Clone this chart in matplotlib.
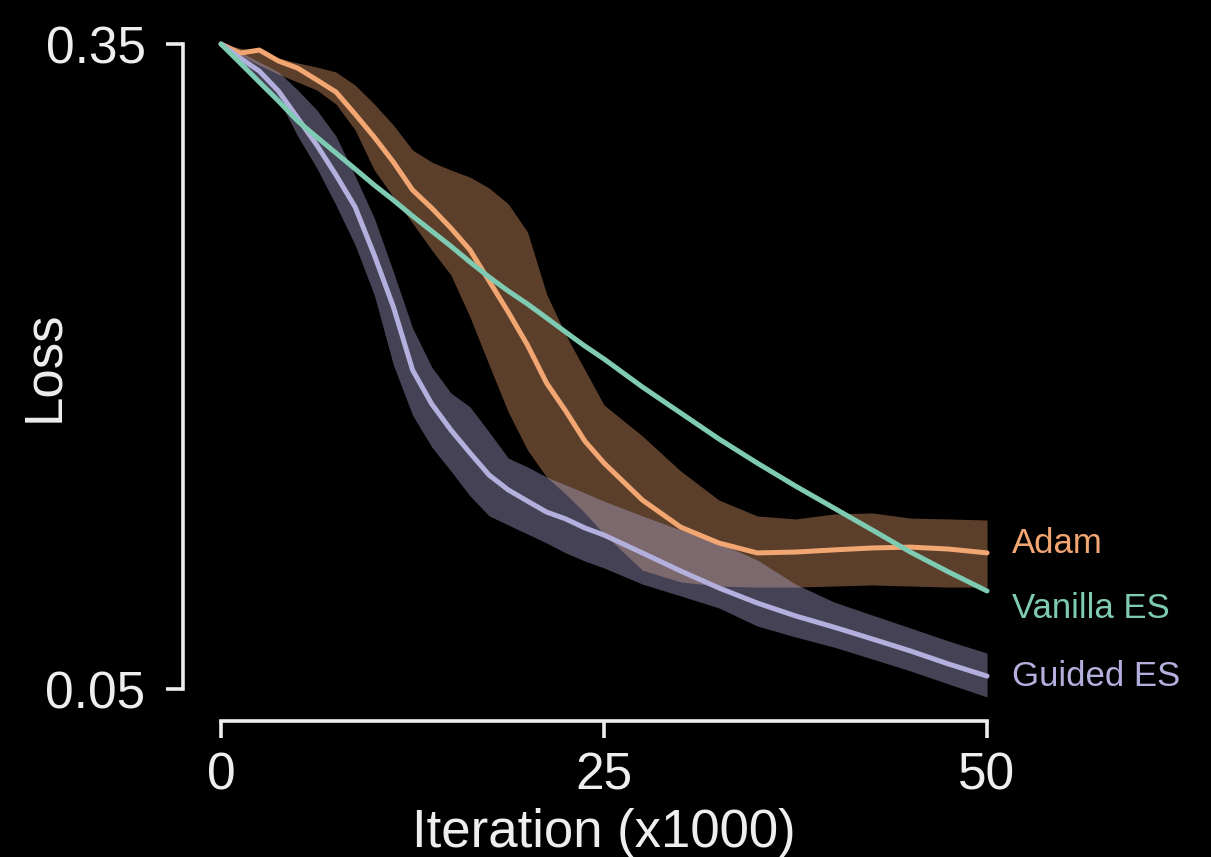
import numpy as np
import matplotlib
matplotlib.use("Agg")
import matplotlib.pyplot as plt

# iterations (x1000): finer steps where the curves bend the most
iters = [0, 1.25, 2.5, 3.75, 5, 6.25, 7.5, 8.75, 10, 11.25, 12.5, 13.75, 15, 16.25,
         17.5, 18.75, 20, 21.25, 22.5, 23.75, 25,
         27.5, 30, 32.5, 35, 37.5, 40, 42.5, 45, 47.5, 50]

adam_mean = [0.3500, 0.3458, 0.3472, 0.3421, 0.3388, 0.3333, 0.3277, 0.3174, 0.3067, 0.2951,
             0.2821, 0.2737, 0.2644, 0.2542, 0.2398, 0.2253, 0.2100, 0.1923, 0.1793, 0.1653,
             0.1551, 0.1379, 0.1253, 0.1179, 0.1133, 0.1137, 0.1147, 0.1156, 0.1160, 0.1151, 0.1133]
adam_hi = [0.3500, 0.3481, 0.3463, 0.3435, 0.3412, 0.3393, 0.3370, 0.3309, 0.3221, 0.3123,
           0.3007, 0.2951, 0.2914, 0.2881, 0.2830, 0.2756, 0.2626, 0.2337, 0.2147, 0.1984,
           0.1821, 0.1677, 0.1514, 0.1379, 0.1305, 0.1291, 0.1314, 0.1319, 0.1295, 0.1291, 0.1286]
adam_lo = [0.3495, 0.3449, 0.3402, 0.3360, 0.3323, 0.3286, 0.3221, 0.3100, 0.2914, 0.2788,
           0.2667, 0.2542, 0.2426, 0.2230, 0.2007, 0.1788, 0.1612, 0.1486, 0.1407, 0.1319,
           0.1221, 0.1053, 0.0998, 0.0979, 0.0974, 0.0974, 0.0979, 0.0984, 0.0979, 0.0974, 0.0974]

vanilla_mean = [0.3500, 0.3412, 0.3323, 0.3235, 0.3142, 0.3067, 0.2993, 0.2919, 0.2844, 0.2774,
                0.2700, 0.2630, 0.2560, 0.2486, 0.2416, 0.2351, 0.2291, 0.2226, 0.2160, 0.2095,
                0.2035, 0.1905, 0.1784, 0.1663, 0.1551, 0.1444, 0.1342, 0.1240, 0.1137, 0.1044, 0.0956]

guided_mean = [0.3500, 0.3435, 0.3374, 0.3281, 0.3156, 0.3030, 0.2891, 0.2742, 0.2519, 0.2277,
               0.1984, 0.1826, 0.1705, 0.1598, 0.1495, 0.1426, 0.1374, 0.1323, 0.1291, 0.1249,
               0.1216, 0.1133, 0.1049, 0.0970, 0.0900, 0.0840, 0.0788, 0.0733, 0.0677, 0.0616, 0.0560]
guided_hi = [0.3500, 0.3463, 0.3416, 0.3370, 0.3286, 0.3193, 0.3072, 0.2886, 0.2691, 0.2440,
             0.2179, 0.1998, 0.1877, 0.1812, 0.1695, 0.1574, 0.1533, 0.1486, 0.1449, 0.1412,
             0.1374, 0.1305, 0.1240, 0.1179, 0.1100, 0.0988, 0.0905, 0.0844, 0.0784, 0.0723, 0.0667]
guided_lo = [0.3491, 0.3412, 0.3323, 0.3244, 0.3072, 0.2923, 0.2751, 0.2565, 0.2333, 0.2007,
             0.1774, 0.1626, 0.1514, 0.1398, 0.1305, 0.1263, 0.1221, 0.1179, 0.1133, 0.1095,
             0.1063, 0.0988, 0.0933, 0.0877, 0.0793, 0.0742, 0.0695, 0.0640, 0.0584, 0.0523, 0.0463]

x_ticks = [0, 25, 50]
y_ticks = [0.05, 0.35]

ADAM_COLOR = "#f2a672"
VANILLA_COLOR = "#7ecab2"
GUIDED_COLOR = "#b4b0de"
FG = "#eeeeee"


def style_axes(ax):
    ax.set_facecolor("black")
    for side in ["top", "right"]:
        ax.spines[side].set_visible(False)
    ax.spines["left"].set_position(("outward", 16.3))
    ax.spines["left"].set_bounds(0.05, 0.35)
    ax.spines["bottom"].set_bounds(0, 50)
    for side in ["left", "bottom"]:
        ax.spines[side].set_color(FG)
        ax.spines[side].set_linewidth(2.6)

    ax.set_xlim(-1, 51)
    ax.set_ylim(0.035, 0.36)
    ax.set_xticks(x_ticks)
    ax.set_xticklabels([str(t) for t in x_ticks])
    ax.set_yticks(y_ticks)
    ax.set_yticklabels(["%.2f" % t for t in y_ticks])
    ax.tick_params(axis="both", colors=FG, labelsize=37, length=12, width=2.6)
    ax.tick_params(axis="y", pad=15)
    ax.tick_params(axis="x", pad=10)

    ax.set_xlabel("Iteration (x1000)", fontsize=38, color=FG, va="baseline")
    ax.xaxis.set_label_coords(0.5, -0.180)
    ax.set_ylabel("Loss", fontsize=38, color=FG, va="baseline")
    ax.yaxis.set_label_coords(-0.1854, 0.508)


def main():
    plt.rcParams["font.family"] = ["Liberation Sans", "DejaVu Sans"]
    fig = plt.figure(figsize=(12.11, 8.57), dpi=100, facecolor="black")
    ax = fig.add_axes([0.1699, 0.1584, 0.6578, 0.8153])
    style_axes(ax)

    x = np.array(iters)

    # shaded bands first, then the mean curves
    ax.fill_between(x, adam_lo, adam_hi, color=ADAM_COLOR, alpha=0.38, lw=0)
    ax.fill_between(x, guided_lo, guided_hi, color=GUIDED_COLOR, alpha=0.38, lw=0)

    lw = 3.6
    ax.plot(x, adam_mean, color=ADAM_COLOR, lw=lw, solid_capstyle="round", solid_joinstyle="round")
    ax.plot(x, guided_mean, color=GUIDED_COLOR, lw=lw, solid_capstyle="round", solid_joinstyle="round")
    ax.plot(x, vanilla_mean, color=VANILLA_COLOR, lw=lw, solid_capstyle="round", solid_joinstyle="round")

    # labels at the right end of each curve
    labels = [("Adam", adam_mean[-1], ADAM_COLOR, 7),
              ("Vanilla ES", vanilla_mean[-1], VANILLA_COLOR, -12.5),
              ("Guided ES", guided_mean[-1], GUIDED_COLOR, -0.5)]
    for name, yend, col, dy in labels:
        ax.annotate(name, xy=(x[-1], yend), xytext=(18, dy), textcoords="offset points",
                    color=col, fontsize=25, va="center", ha="left", annotation_clip=False)

    fig.savefig("out.png", dpi=100, facecolor="black")


if __name__ == "__main__":
    main()
